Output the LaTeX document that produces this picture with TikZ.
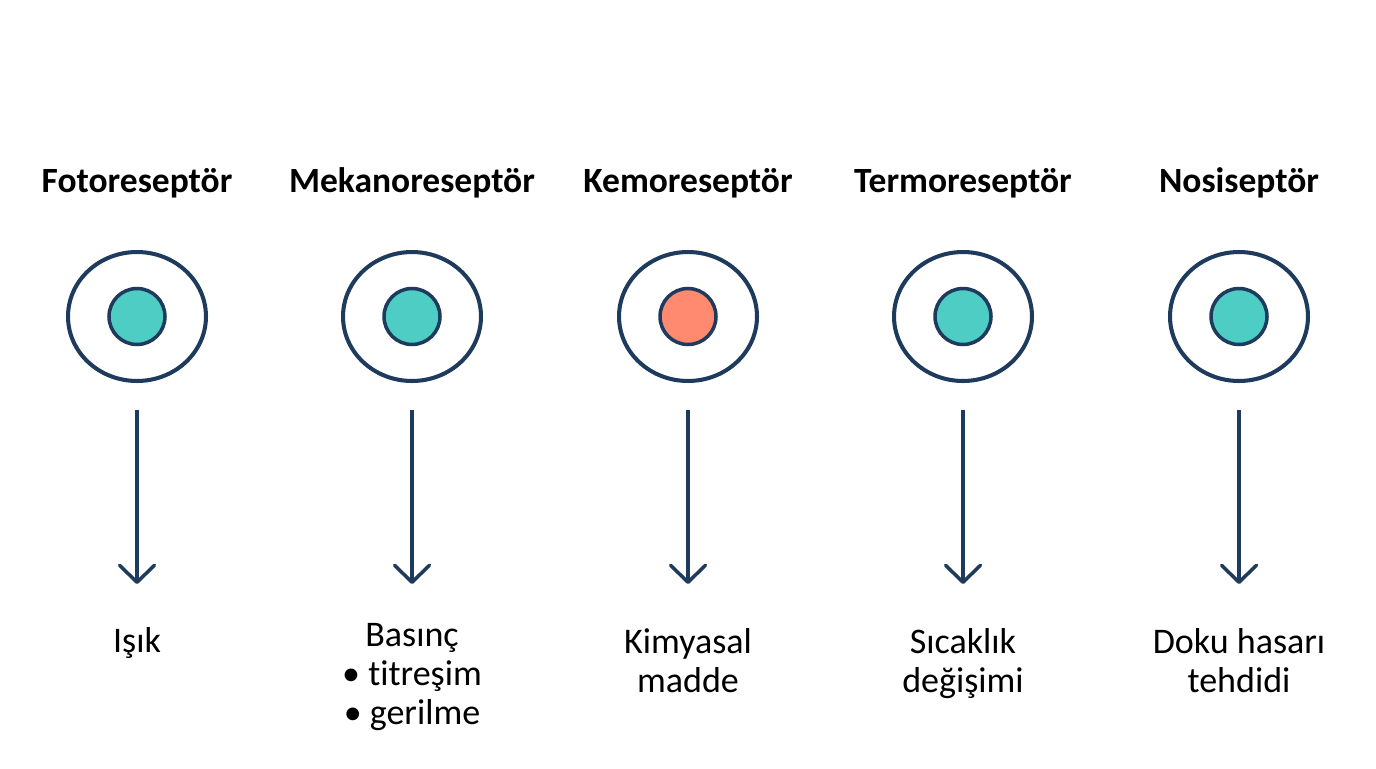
\documentclass[tikz,border=0pt]{standalone}
\usepackage{fontspec}
\setmainfont{Carlito}[Ligatures=NoCommon]
\usetikzlibrary{arrows.meta,positioning,shapes.geometric}
\definecolor{rnavy}{HTML}{1E3A5C}
\definecolor{rteal}{HTML}{4ECDC4}
\definecolor{rcoral}{HTML}{FF8A70}
\tikzset{
  cell/.style={ellipse,draw=rnavy,line width=2.3pt,fill=white,minimum width=2.76cm,
               minimum height=2.58cm,inner sep=0pt},
  core/.style={circle,draw=rnavy,line width=2pt,minimum size=1.12cm,inner sep=0pt},
  arr/.style={-{Straight Barb[length=3.4mm,width=7mm,round]},line width=2pt,rnavy},
  ttl/.style={font=\fontsize{20.2}{24}\selectfont\bfseries,anchor=base,inner sep=0pt},
  stim/.style={font=\fontsize{20.5}{22}\selectfont,align=center,anchor=base,inner sep=0pt},
}
\begin{document}
\begin{tikzpicture}[x=0.02cm,y=-0.02cm]
\useasboundingbox (0,0) rectangle (1376,768);
% receptor columns (\sy = baseline of the last text line)
\foreach \x/\name/\col/\txt/\sy [count=\i] in {
  137/Fotoreseptör/rteal/Işık/652,
  412/Mekanoreseptör/rteal/{Basınç\\• titreşim\\• gerilme}/724,
  688/Kemoreseptör/rcoral/{Kimyasal\\madde}/692,
  963/Termoreseptör/rteal/{Sıcaklık\\değişimi}/692,
  1239/Nosiseptör/rteal/{Doku hasarı\\tehdidi}/692}{
  \node[ttl] (ttl\i) at (\x,192) {\name};
  \node[cell] (rec\i) at (\x,316.5) {};
  \node[core,fill=\col] (core\i) at (rec\i) {};
  \coordinate (tip\i) at (\x,584);
  \draw[arr,shorten <=0.54cm] (rec\i.south) -- (tip\i);
  \node[stim] (stim\i) at (\x,\sy) {\txt};
}
\end{tikzpicture}
\end{document}
